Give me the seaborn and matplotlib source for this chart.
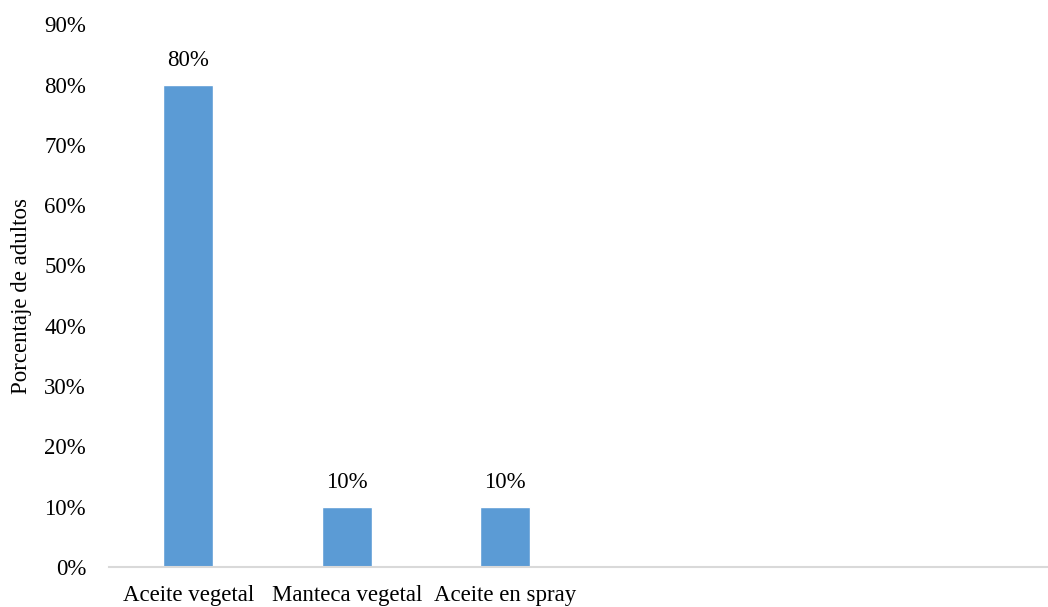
import matplotlib
matplotlib.use("Agg")
import matplotlib.pyplot as plt
import seaborn as sns
import pandas as pd
from matplotlib.ticker import PercentFormatter

# data
categorias = ["Aceite vegetal", "Manteca vegetal", "Aceite en spray"]
porcentajes = [0.80, 0.10, 0.10]
etiquetas = ["80%", "10%", "10%"]

df = pd.DataFrame({"categoria": categorias, "porcentaje": porcentajes})

sns.set_theme(style="white")
plt.rcParams["font.family"] = ["Liberation Serif", "DejaVu Serif"]

fig = plt.figure(figsize=(10.48, 6.07), dpi=100)
# excel chart keeps 6 category slots; the last one runs off the right edge
ax = fig.add_axes([0.104, 0.066, 0.9075, 0.894])

sns.barplot(data=df, x="categoria", y="porcentaje", color="#5B9BD5",
            width=0.315, saturation=1, ax=ax)

for i, txt in enumerate(etiquetas):
    ax.text(i, porcentajes[i] + 0.022, txt, ha="center", va="bottom",
            fontsize=16.5, color="black")

ax.set_xlim(-0.5, 5.5)
ax.set_ylim(0, 0.9)
ax.set_yticks([i / 10 for i in range(10)])
ax.yaxis.set_major_formatter(PercentFormatter(1.0, decimals=0))

ax.set_xlabel("")
ax.set_ylabel("Porcentaje de adultos", fontsize=16.5, color="black", labelpad=9)
ax.tick_params(axis="y", length=0, labelsize=16.5, colors="black", pad=16.5)
ax.tick_params(axis="x", length=0, labelsize=16.5, colors="black", pad=13)

for s in ["top", "right", "left"]:
    ax.spines[s].set_visible(False)
ax.spines["bottom"].set_color("#D9D9D9")
ax.spines["bottom"].set_linewidth(1.5)

fig.savefig("out.png", dpi=100)
